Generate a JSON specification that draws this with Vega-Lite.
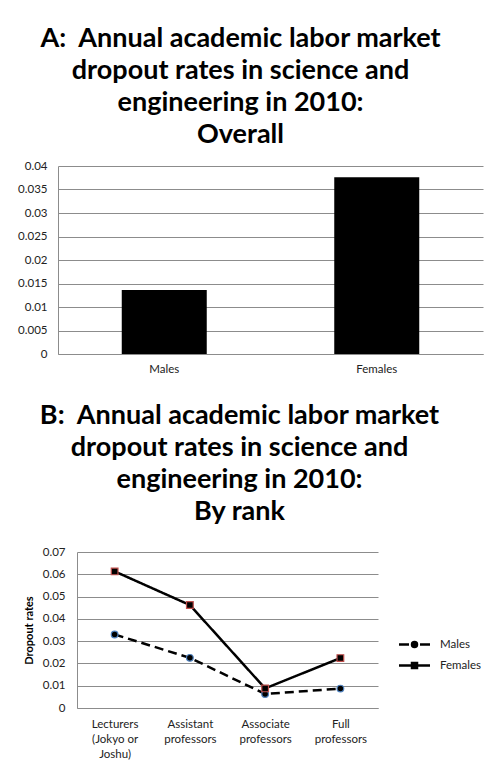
{
  "$schema": "https://vega.github.io/schema/vega-lite/v6.json",
  "padding": {"left": 17, "top": 25, "right": 0, "bottom": 0},
  "spacing": 27,
  "center": true,
  "config": {
    "font": "Lato",
    "view": {"stroke": null},
    "axis": {
      "labelFont": "Lato",
      "labelFontSize": 11.5,
      "labelColor": "#222222",
      "gridColor": "#8c8c8c",
      "domainColor": "#8c8c8c",
      "ticks": false
    }
  },
  "datasets": {
    "overall": [
      {"sex": "Males", "rate": 0.0136},
      {"sex": "Females", "rate": 0.0376}
    ],
    "byrank": [
      {"rank": "Lecturers (Jokyo or Joshu)", "sex": "Males", "rate": 0.033},
      {"rank": "Assistant professors", "sex": "Males", "rate": 0.0225},
      {"rank": "Associate professors", "sex": "Males", "rate": 0.0063},
      {"rank": "Full professors", "sex": "Males", "rate": 0.0087},
      {"rank": "Lecturers (Jokyo or Joshu)", "sex": "Females", "rate": 0.0613},
      {"rank": "Assistant professors", "sex": "Females", "rate": 0.0462},
      {"rank": "Associate professors", "sex": "Females", "rate": 0.0088},
      {"rank": "Full professors", "sex": "Females", "rate": 0.0224}
    ]
  },
  "vconcat": [
    {
      "title": {
        "text": ["A:\u00a0 Annual academic labor market", "dropout rates in science and", "engineering in 2010:", "Overall"],
        "fontSize": 27,
        "fontWeight": "bold",
        "lineHeight": 32,
        "color": "black",
        "anchor": "middle",
        "frame": "group",
        "dx": -30,
        "offset": 11
      },
      "width": 425,
      "height": 188,
      "data": {"name": "overall"},
      "mark": {"type": "bar", "color": "black"},
      "encoding": {
        "x": {
          "field": "sex",
          "type": "nominal",
          "sort": ["Males", "Females"],
          "scale": {"paddingInner": 0.6, "paddingOuter": 0.3},
          "axis": {
            "title": "\u00a0",
            "titleOpacity": 0,
            "titleFontSize": 11.5,
            "titleAlign": "right",
            "titleBaseline": "top",
            "titleX": 443,
            "titleY": 0,
            "labelAngle": 0,
            "labelPadding": 9
          }
        },
        "y": {
          "field": "rate",
          "type": "quantitative",
          "scale": {"domain": [0, 0.04], "nice": false},
          "axis": {
            "title": null,
            "values": [0, 0.005, 0.01, 0.015, 0.02, 0.025, 0.03, 0.035, 0.04],
            "format": "~f",
            "labelPadding": 11
          }
        }
      }
    },
    {
      "title": {
        "text": ["B:\u00a0 Annual academic labor market", "dropout rates in science and", "engineering in 2010:", "By rank"],
        "fontSize": 27,
        "fontWeight": "bold",
        "lineHeight": 32,
        "color": "black",
        "anchor": "middle",
        "frame": "group",
        "dx": 12,
        "offset": 20
      },
      "width": 301,
      "height": 156,
      "data": {"name": "byrank"},
      "encoding": {
        "x": {
          "field": "rank",
          "type": "nominal",
          "sort": ["Lecturers (Jokyo or Joshu)", "Assistant professors", "Associate professors", "Full professors"],
          "scale": {"type": "point", "padding": 0.5},
          "axis": {
            "title": null,
            "labelAngle": 0,
            "labelPadding": 10,
            "labelLineHeight": 15,
            "labelExpr": "datum.label == 'Lecturers (Jokyo or Joshu)' ? ['Lecturers', '(Jokyo or', 'Joshu)'] : split(datum.label, ' ')"
          }
        },
        "y": {
          "field": "rate",
          "type": "quantitative",
          "scale": {"domain": [0, 0.07], "nice": false},
          "axis": {
            "title": "Dropout rates",
            "titleFontSize": 11,
            "titleFontWeight": "bold",
            "titleColor": "black",
            "titlePadding": 8,
            "values": [0, 0.01, 0.02, 0.03, 0.04, 0.05, 0.06, 0.07],
            "format": "~f",
            "labelPadding": 12
          }
        }
      },
      "layer": [
        {
          "mark": {"type": "line", "color": "black", "strokeWidth": 2.5},
          "encoding": {
            "strokeDash": {
              "field": "sex",
              "type": "nominal",
              "scale": {"domain": ["Males", "Females"], "range": [[9, 5], [1, 0]]},
              "legend": null
            }
          }
        },
        {
          "mark": {"type": "point", "filled": true, "fill": "black", "size": 45, "strokeWidth": 1.2, "opacity": 1},
          "encoding": {
            "shape": {
              "field": "sex",
              "type": "nominal",
              "scale": {"domain": ["Males", "Females"], "range": ["circle", "square"]},
              "legend": null
            },
            "stroke": {
              "field": "sex",
              "type": "nominal",
              "scale": {"domain": ["Males", "Females"], "range": ["#4f81bd", "#c0504d"]},
              "legend": null
            }
          }
        },
        {
          "mark": {"type": "point", "color": "black", "opacity": 0},
          "encoding": {
            "shape": {
              "field": "sex",
              "type": "nominal",
              "scale": {
                "domain": ["Males", "Females"],
                "range": [
                  "M-3.1,0H-1.1M1.1,0H3.1M-0.5,0A0.5,0.5 0 1,1 0.5,0A0.5,0.5 0 1,1 -0.5,0ZM-0.5,0H0.5",
                  "M-3.1,0H3.1M-0.5,-0.5H0.5V0.5H-0.5Z"
                ]
              },
              "legend": {
                "title": null,
                "orient": "none",
                "legendX": 331,
                "legendY": 86,
                "symbolSize": 100,
                "symbolOpacity": 1,
                "symbolStrokeColor": "black",
                "symbolStrokeWidth": 2.5,
                "labelFontSize": 11.5,
                "labelColor": "#222222",
                "labelOffset": 19,
                "rowPadding": 6
              }
            }
          }
        }
      ],
      "resolve": {"scale": {"shape": "independent"}}
    }
  ]
}
